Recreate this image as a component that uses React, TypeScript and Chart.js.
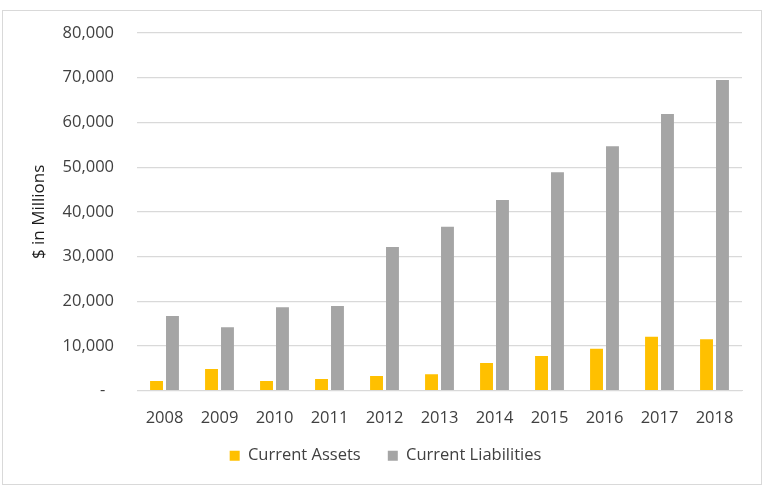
import { useEffect, useRef } from 'react'
import { Chart, registerables } from 'chart.js'

Chart.register(...registerables)

const years = ['2008', '2009', '2010', '2011', '2012', '2013', '2014', '2015', '2016', '2017', '2018']
const currentAssets = [2200, 4850, 2200, 2600, 3300, 3700, 6200, 7750, 9400, 12100, 11500]
const currentLiabilities = [16700, 14200, 18700, 18950, 32150, 36700, 42650, 48850, 54650, 61900, 69500]
const yTicks = [0, 10000, 20000, 30000, 40000, 50000, 60000, 70000, 80000]

const FONT = 'Open Sans'

export default function App() {
  const canvasRef = useRef<HTMLCanvasElement>(null)
  const chartRef = useRef<Chart | null>(null)

  useEffect(() => {
    if (!canvasRef.current) return
    if (chartRef.current) { chartRef.current.destroy(); chartRef.current = null }
    const ctx = canvasRef.current.getContext('2d')!

    chartRef.current = new Chart(ctx, {
      type: 'bar',
      data: {
        labels: years,
        datasets: [
          { label: 'Current Assets', data: currentAssets, backgroundColor: '#FFC000', categoryPercentage: 0.58, barPercentage: 0.81 },
          { label: 'Current Liabilities', data: currentLiabilities, backgroundColor: '#A5A5A5', categoryPercentage: 0.58, barPercentage: 0.81 },
        ],
      },
      options: {
        animation: false,
        responsive: false,
        maintainAspectRatio: false,
        layout: { padding: { left: 29, top: 33, right: 27, bottom: 21 } },
        plugins: {
          legend: {
            position: 'bottom',
            labels: {
              boxWidth: 10,
              boxHeight: 10,
              padding: 10,
              color: '#404040',
              font: { family: FONT, size: 16.5 },
              // wider gap between the two entries than the vertical padding allows
              generateLabels: (chart: any) => {
                const items = Chart.defaults.plugins.legend.labels.generateLabels(chart)
                if (items[0]) items[0].text = items[0].text + '    '
                return items
              },
            },
          },
          tooltip: { enabled: false },
        },
        scales: {
          x: {
            grid: { display: false },
            border: { color: '#d9d9d9' },
            ticks: { color: '#404040', padding: 10, font: { family: FONT, size: 16.5 } },
            afterFit: (s: any) => { s.height = 46.75 },
          },
          y: {
            min: 0,
            max: 80000,
            afterBuildTicks: (s: any) => { s.ticks = yTicks.map(v => ({ value: v })) },
            grid: { color: '#d9d9d9', lineWidth: 1.3, drawTicks: false },
            border: { display: false },
            ticks: {
              color: '#404040',
              padding: 23,
              font: { family: FONT, size: 16.5 },
              callback: (v: any) => (v === 0 ? '-  ' : Number(v).toLocaleString('en-US')),
            },
            title: {
              display: true,
              text: '$ in Millions',
              color: '#1a1a1a',
              padding: 0,
              font: { family: FONT, size: 17 },
            },
            afterFit: (s: any) => { s.width = 108 },
          },
        },
      },
    })

    return () => { chartRef.current?.destroy(); chartRef.current = null }
  }, [])

  return (
    <div style={{ position: 'absolute', left: 0, top: 0, width: 769, height: 495, background: '#fff' }}>
      <div style={{ position: 'absolute', left: 2, top: 10, width: 760, height: 475, border: '1px solid #d9d9d9', boxSizing: 'border-box' }} />
      <canvas ref={canvasRef} width={769} height={495} style={{ position: 'absolute', left: 0, top: 0, width: 769, height: 495 }} />
    </div>
  )
}
